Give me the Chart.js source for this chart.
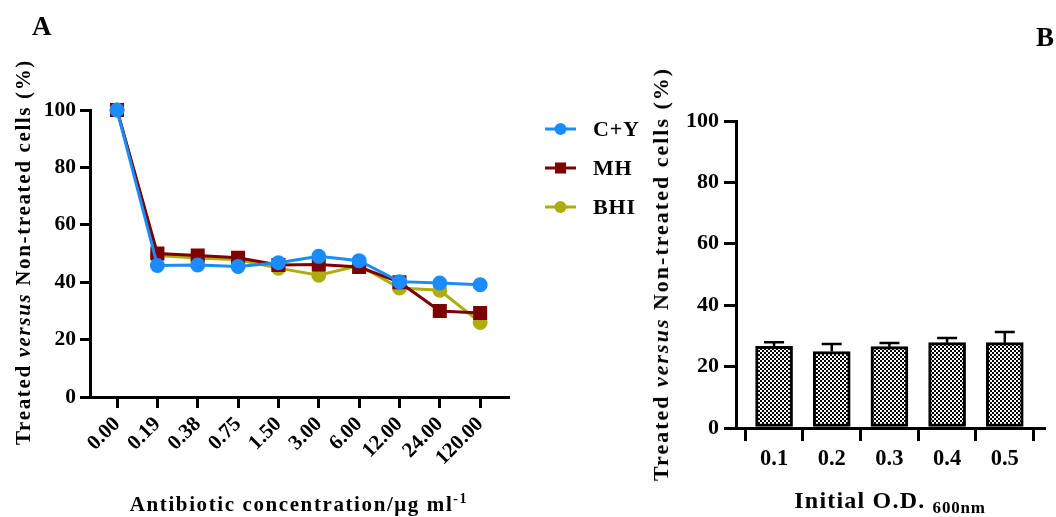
<!DOCTYPE html>
<html><head><meta charset="utf-8">
<script src="https://cdn.jsdelivr.net/npm/chart.js@4/dist/chart.umd.min.js"></script>
<style>
html,body{margin:0;padding:0;background:#fff;}
body{width:1056px;height:517px;position:relative;overflow:hidden;font-family:'Liberation Serif','Times New Roman',serif;font-weight:bold;color:#000;}
.abs{position:absolute;white-space:nowrap;}
.ytitle{transform:translate(-50%,-50%) rotate(-90deg);}
.xtitle{transform:translateX(-50%);}
</style></head><body>
<canvas id="cA" width="640" height="517" class="abs" style="left:0;top:0"></canvas>
<canvas id="cB" width="416" height="517" class="abs" style="left:640px;top:0"></canvas>
<div class="abs" style="left:32px;top:11px;font-size:27px">A</div>
<div class="abs" style="left:1036px;top:22px;font-size:27px">B</div>
<div class="abs ytitle" style="left:22.5px;top:252px;font-size:21px;letter-spacing:1.65px">Treated <i>versus</i> Non-treated cells (%)</div>
<div class="abs ytitle" style="left:661px;top:274px;font-size:22px;letter-spacing:2px">Treated <i>versus</i> Non-treated cells (%)</div>
<div class="abs xtitle" style="left:299px;top:492px;font-size:21px;letter-spacing:1.6px">Antibiotic concentration/μg ml<span style="position:relative;top:-8px;font-size:14px">-1</span></div>
<div class="abs xtitle" style="left:890px;top:487px;font-size:24px;letter-spacing:1.2px">Initial O.D. <span style="position:relative;top:5px;font-size:17px;letter-spacing:0.8px">600nm</span></div>
<script>
// ---- data ----
const concLabels = ['0.00','0.19','0.38','0.75','1.50','3.00','6.00','12.00','24.00','120.00'];
const cyValues  = [100, 45.8, 46.0, 45.5, 46.8, 49.0, 47.5, 40.2, 39.7, 39.1];
const mhValues  = [100, 50.0, 49.3, 48.5, 46.0, 46.2, 45.3, 40.0, 30.0, 29.3];
const bhiValues = [100, 49.3, 48.4, 47.8, 44.9, 42.4, 45.8, 38.0, 37.2, 26.0];
const seriesNames = ['C+Y','MH','BHI'];
const yTicksA = [0,20,40,60,80,100];

const odLabels = ['0.1','0.2','0.3','0.4','0.5'];
const odMeans  = [26.6, 24.9, 26.5, 27.8, 27.8];
const odErrors = [1.3, 2.5, 1.2, 1.5, 3.5];
const yTicksB = [0,20,40,60,80,100];

Chart.defaults.font.family = "'Liberation Serif','Times New Roman',serif";
Chart.defaults.font.weight = 'bold';
Chart.defaults.color = '#000';
Chart.defaults.animation = false;

const BLUE = '#1a8cff', RED = '#7d0000', OLIVE = '#adad10';

function pts(arr){ return arr.map((v,i)=>({x:i,y:v})); }

const legendPlugin = {
  id:'legendA',
  afterDraw(chart){
    const ctx = chart.ctx;
    chart.data.datasets.forEach((ds,i)=>{
      const y = 129 + i*39;
      ctx.save();
      ctx.strokeStyle = ds.borderColor; ctx.lineWidth = 3;
      ctx.beginPath(); ctx.moveTo(545,y); ctx.lineTo(576,y); ctx.stroke();
      ctx.fillStyle = ds.borderColor;
      ctx.beginPath();
      if (ds.pointStyle === 'rect') {
        const s = ds.pointRadius*Math.SQRT1_2;
        ctx.rect(560.5-s, y-s, 2*s, 2*s);
      } else {
        ctx.arc(560.5, y, ds.pointRadius, 0, Math.PI*2);
      }
      ctx.fill();
      ctx.fillStyle = '#000';
      ctx.font = "bold 22px 'Liberation Serif'";
      if ('letterSpacing' in ctx) ctx.letterSpacing = '0.8px';
      ctx.textBaseline = 'middle';
      ctx.fillText(ds.label, 593, y+1);
      ctx.restore();
    });
  }
};

function axisCommon(tickLen){
  return {
    grid:{drawOnChartArea:false, drawTicks:true, tickLength:tickLen, tickColor:'#000', tickWidth:3, lineWidth:3, color:'#000'},
    border:{color:'#000', width:3}
  };
}

new Chart(document.getElementById('cA'), {
  type:'line',
  data:{
    datasets:[
      {label:seriesNames[0], data:pts(cyValues), borderColor:BLUE, backgroundColor:BLUE, pointBackgroundColor:BLUE, pointBorderColor:BLUE, pointStyle:'circle', pointRadius:6, borderWidth:3, clip:false},
      {label:seriesNames[1], data:pts(mhValues), borderColor:RED, backgroundColor:RED, pointBackgroundColor:RED, pointBorderColor:RED, pointStyle:'rect', pointRadius:7.8, borderWidth:3, clip:false},
      {label:seriesNames[2], data:pts(bhiValues), borderColor:OLIVE, backgroundColor:OLIVE, pointBackgroundColor:OLIVE, pointBorderColor:OLIVE, pointStyle:'circle', pointRadius:6, borderWidth:3, clip:false}
    ]
  },
  options:{
    responsive:false, animation:false,
    layout:{padding:{left:0, top:110, right:132, bottom:0}},
    plugins:{legend:{display:false}, tooltip:{enabled:false}},
    scales:{
      x:Object.assign(axisCommon(11), {
        type:'linear', min:-0.67, max:9.69,
        afterBuildTicks:a=>{ a.ticks = concLabels.map((_,i)=>({value:i})); },
        ticks:{callback:(v)=>concLabels[v], minRotation:45, maxRotation:45, padding:4, font:{size:21, weight:'bold'}, color:'#000'},
        afterFit:s=>{ s.height = 120; }
      }),
      y:Object.assign(axisCommon(10), {
        min:0, max:100,
        afterBuildTicks:a=>{ a.ticks = yTicksA.map(v=>({value:v})); },
        ticks:{padding:4, font:{size:21.5, weight:'bold'}, color:'#000'},
        afterFit:s=>{ s.width = 90; }
      })
    }
  },
  plugins:[legendPlugin]
});

// checker pattern
const pc = document.createElement('canvas'); pc.width=4; pc.height=4;
const pctx = pc.getContext('2d');
pctx.fillStyle='#fff'; pctx.fillRect(0,0,4,4);
pctx.fillStyle='#000'; pctx.fillRect(0,0,2,2); pctx.fillRect(2,2,2,2);
const cB = document.getElementById('cB');
const pattern = cB.getContext('2d').createPattern(pc,'repeat');

const errPlugin = {
  id:'errbars',
  afterDatasetsDraw(chart){
    const xs = chart.scales.x, ys = chart.scales.y, ctx = chart.ctx;
    ctx.save(); ctx.strokeStyle='#000'; ctx.lineWidth=2.5;
    odMeans.forEach((m,i)=>{
      const x = xs.getPixelForValue(i);
      const y0 = ys.getPixelForValue(m), y1 = ys.getPixelForValue(m+odErrors[i]);
      ctx.beginPath(); ctx.moveTo(x,y0); ctx.lineTo(x,y1);
      ctx.moveTo(x-10,y1); ctx.lineTo(x+10,y1); ctx.stroke();
    });
    ctx.restore();
  }
};

new Chart(cB, {
  type:'bar',
  data:{
    datasets:[{label:'OD', data:pts(odMeans), backgroundColor:pattern, borderColor:'#000', borderWidth:3, borderSkipped:false, barThickness:37}]
  },
  options:{
    responsive:false, animation:false,
    layout:{padding:{left:0, top:121, right:12, bottom:0}},
    plugins:{legend:{display:false}, tooltip:{enabled:false}},
    scales:{
      x:Object.assign(axisCommon(13), {
        type:'linear', min:-0.66, max:4.68, offset:false,
        afterBuildTicks:a=>{ a.ticks = odLabels.map((_,i)=>({value:i})); },
        ticks:{callback:(v)=>odLabels[v], minRotation:0, maxRotation:0, padding:5, font:{size:22.5, weight:'bold'}, color:'#000'},
        afterFit:s=>{ s.height = 89; }
      }),
      y:Object.assign(axisCommon(12), {
        min:0, max:100,
        afterBuildTicks:a=>{ a.ticks = yTicksB.map(v=>({value:v})); },
        ticks:{padding:5, font:{size:22, weight:'bold'}, color:'#000'},
        afterFit:s=>{ s.width = 96; }
      })
    }
  },
  plugins:[errPlugin]
});
</script>
</body></html>
